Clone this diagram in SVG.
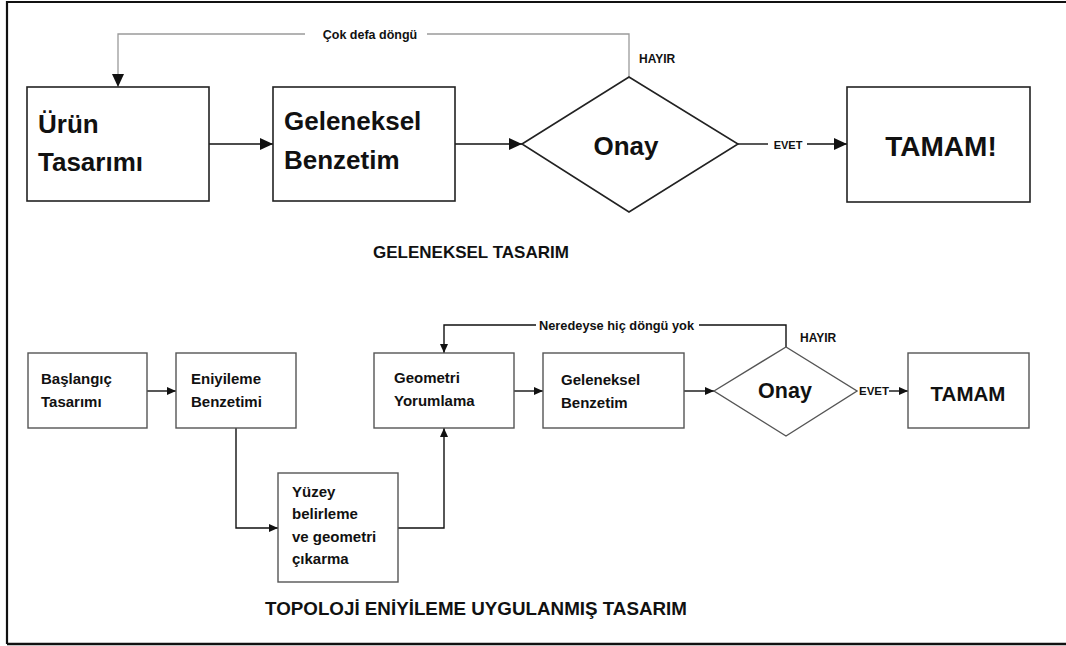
<svg xmlns="http://www.w3.org/2000/svg" width="1066" height="646" viewBox="0 0 1066 646">
<defs>
<style>
text{font-family:"Liberation Sans",Arial,sans-serif;font-weight:bold;fill:#111}
.box{fill:#fff;stroke:#222;stroke-width:1.6}
.box2{fill:#fff;stroke:#555;stroke-width:1.4}
.con{fill:none;stroke:#111;stroke-width:1.4}
.gray{fill:none;stroke:#9a9a9a;stroke-width:1.3}
.big{font-size:26px}
.sm{font-size:15px}
.lbl{font-size:12px}
</style>
<marker id="ah" markerUnits="userSpaceOnUse" markerWidth="13" markerHeight="12" refX="13" refY="6" orient="auto"><path d="M0,0 L13,6 L0,12 z" fill="#111"/></marker>
<marker id="as" markerUnits="userSpaceOnUse" markerWidth="9" markerHeight="8" refX="9" refY="4" orient="auto"><path d="M0,0 L9,4 L0,8 z" fill="#111"/></marker>
</defs>
<rect x="0" y="0" width="1066" height="646" fill="#fff"/>
<path d="M7,644 V2 H1066" fill="none" stroke="#111" stroke-width="2.2"/>
<path d="M7,644 H1066" fill="none" stroke="#111" stroke-width="2.4"/>

<g id="connectors">
<path class="con" d="M209,144 H273" marker-end="url(#ah)"/>
<path class="con" d="M455,144 H522" marker-end="url(#ah)"/>
<path class="con" d="M738,144 H768"/>
<path class="con" d="M807,144 H847" marker-end="url(#ah)"/>
<path class="gray" d="M629,77 V34 H427"/>
<path class="gray" d="M305,34 H118 V87" marker-end="url(#ah)"/>
<path class="con" d="M147,391 H176" marker-end="url(#as)"/>
<path class="con" d="M236,428 V528 H278" marker-end="url(#as)"/>
<path class="con" d="M398,528 H444 V428" marker-end="url(#as)"/>
<path class="con" d="M514,391 H543" marker-end="url(#as)"/>
<path class="con" d="M684,391 H714" marker-end="url(#as)"/>
<path class="con" d="M889,391 H908" marker-end="url(#as)"/>
<path class="con" d="M786,347 V325 H699"/>
<path class="con" d="M536,325 H444 V353" marker-end="url(#as)"/>
<text x="370" y="39" class="lbl" text-anchor="middle" style="font-size:12.5px">Çok defa döngü</text>
<text x="639" y="63" class="lbl">HAYIR</text>
<text x="788" y="149" style="font-size:11px" text-anchor="middle">EVET</text>
<text x="539" y="330" style="font-size:12.8px">Neredeyse hiç döngü yok</text>
<text x="800" y="342" class="lbl">HAYIR</text>
<text x="874" y="395" style="font-size:11.5px" text-anchor="middle">EVET</text>
</g>

<g id="urun-tasarimi">
<rect class="box" x="27" y="87" width="182" height="114"/>
<text class="big" x="38" y="133">Ürün</text>
<text class="big" x="38" y="171">Tasarımı</text>
</g>
<g id="geleneksel-benzetim">
<rect class="box" x="273" y="87" width="182" height="114"/>
<text class="big" x="284" y="130">Geleneksel</text>
<text class="big" x="284" y="169">Benzetim</text>
</g>
<g id="onay-1">
<polygon class="box" points="522,144 629,77 738,144 629,212"/>
<text class="big" x="626" y="155" text-anchor="middle">Onay</text>
</g>
<g id="tamam-1">
<rect class="box" x="847" y="87" width="183" height="115"/>
<text x="941" y="156" text-anchor="middle" style="font-size:28px">TAMAM!</text>
</g>
<g id="title-1">
<text x="373" y="258" style="font-size:17px">GELENEKSEL TASARIM</text>
</g>

<g id="baslangic">
<rect class="box2" x="28" y="353" width="119" height="75"/>
<text class="sm" x="41" y="384">Başlangıç</text>
<text class="sm" x="41" y="407">Tasarımı</text>
</g>
<g id="eniyileme">
<rect class="box2" x="176" y="353" width="120" height="75"/>
<text class="sm" x="191" y="384">Eniyileme</text>
<text class="sm" x="191" y="407">Benzetimi</text>
</g>
<g id="yuzey">
<rect class="box2" x="278" y="473" width="120" height="109"/>
<text class="sm" x="292" y="497">Yüzey</text>
<text class="sm" x="292" y="519">belirleme</text>
<text class="sm" x="292" y="542">ve geometri</text>
<text class="sm" x="292" y="564">çıkarma</text>
</g>
<g id="geometri">
<rect class="box2" x="374" y="353" width="140" height="75"/>
<text class="sm" x="394" y="383">Geometri</text>
<text class="sm" x="394" y="406">Yorumlama</text>
</g>
<g id="geleneksel-2">
<rect class="box2" x="543" y="353" width="141" height="75"/>
<text class="sm" x="561" y="385">Geleneksel</text>
<text class="sm" x="561" y="408">Benzetim</text>
</g>
<g id="onay-2">
<polygon class="box2" points="714,391 786,347 857,391 786,436"/>
<text x="785" y="398" text-anchor="middle" style="font-size:21.5px">Onay</text>
</g>
<g id="tamam-2">
<rect class="box2" x="908" y="353" width="121" height="75"/>
<text x="968" y="401" text-anchor="middle" style="font-size:20.5px">TAMAM</text>
</g>
<g id="title-2">
<text x="265" y="615" style="font-size:18.8px">TOPOLOJİ ENİYİLEME UYGULANMIŞ TASARIM</text>
</g>
</svg>
